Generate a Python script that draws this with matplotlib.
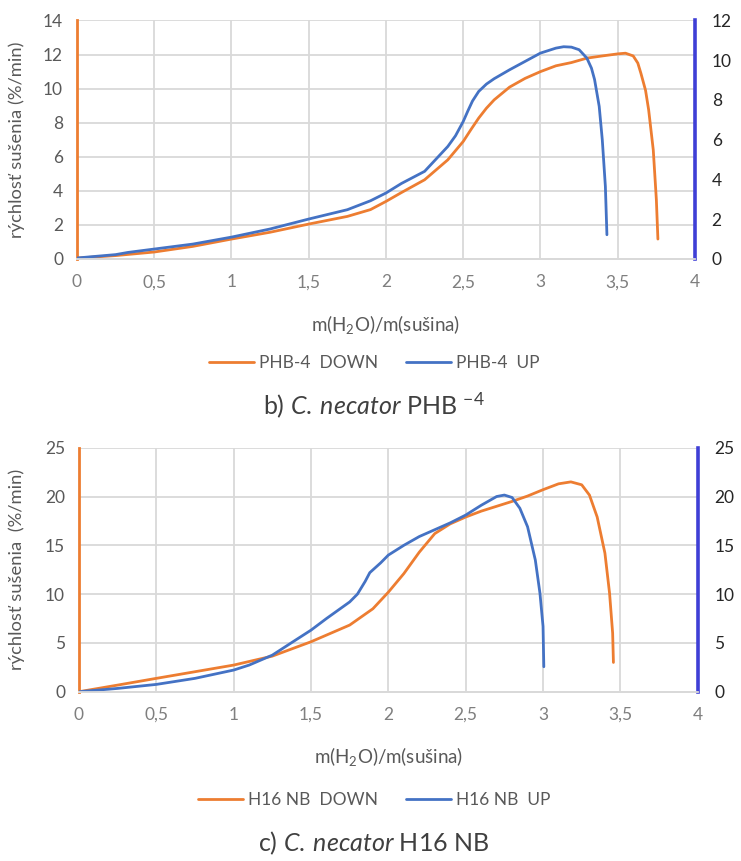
import matplotlib.pyplot as plt

plt.rcParams['font.family'] = ['Lato', 'DejaVu Sans']
plt.rcParams['mathtext.fontset'] = 'custom'
plt.rcParams['mathtext.rm'] = 'Lato'
plt.rcParams['mathtext.it'] = 'Lato:italic'

# PHB-4: DOWN on the left axis (0-14), UP on the right axis (0-12)
phb_down_x = [0, 0.25, 0.5, 0.75, 1.0, 1.25, 1.5, 1.75, 1.9, 2.0, 2.1, 2.25, 2.4, 2.5,
              2.55, 2.6, 2.65, 2.7, 2.8, 2.9, 3.0, 3.1, 3.2, 3.3, 3.4, 3.5, 3.55, 3.6,
              3.63, 3.65, 3.68, 3.7, 3.73, 3.75, 3.76]
phb_down_y = [0.05, 0.2, 0.41, 0.74, 1.17, 1.57, 2.05, 2.5, 2.9, 3.38, 3.9, 4.65, 5.82, 6.9,
              7.6, 8.27, 8.85, 9.34, 10.09, 10.6, 11.0, 11.34, 11.53, 11.79, 11.92, 12.04,
              12.08, 11.92, 11.5, 10.9, 9.9, 8.76, 6.4, 3.48, 1.17]
phb_up_x = [0, 0.25, 0.33, 0.5, 0.75, 1.0, 1.25, 1.5, 1.75, 1.9, 2.0, 2.1, 2.25, 2.4, 2.45,
            2.5, 2.53, 2.56, 2.6, 2.65, 2.7, 2.8, 2.9, 3.0, 3.1, 3.15, 3.2, 3.25, 3.3,
            3.33, 3.35, 3.38, 3.4, 3.42, 3.43]
phb_up_y = [0.05, 0.22, 0.33, 0.5, 0.75, 1.1, 1.51, 2.01, 2.48, 2.93, 3.32, 3.8, 4.41, 5.66,
            6.2, 6.92, 7.45, 7.95, 8.43, 8.8, 9.07, 9.52, 9.94, 10.36, 10.61, 10.68, 10.66,
            10.53, 10.11, 9.6, 9.03, 7.68, 6.0, 3.65, 1.22]

# H16 NB: DOWN on the left axis, UP on the right axis (both 0-25)
h16_down_x = [0, 0.25, 0.5, 0.75, 1.0, 1.25, 1.5, 1.75, 1.9, 2.0, 2.1, 2.2, 2.3, 2.4, 2.5,
              2.6, 2.7, 2.8, 2.9, 3.0, 3.1, 3.18, 3.25, 3.3, 3.35, 3.4, 3.43, 3.45, 3.455]
h16_down_y = [0, 0.68, 1.37, 2.05, 2.73, 3.65, 5.12, 6.83, 8.5, 10.2, 12.1, 14.3, 16.2, 17.2,
              17.9, 18.5, 19.0, 19.5, 20.05, 20.7, 21.3, 21.5, 21.2, 20.15, 17.9, 14.2, 10.1,
              6.0, 3.0]
h16_up_x = [0, 0.25, 0.5, 0.75, 1.0, 1.1, 1.25, 1.4, 1.5, 1.6, 1.75, 1.8, 1.85, 1.88, 1.95,
            2.0, 2.1, 2.2, 2.3, 2.4, 2.5, 2.6, 2.7, 2.75, 2.8, 2.85, 2.9, 2.95, 2.98, 3.0, 3.005]
h16_up_y = [0, 0.34, 0.75, 1.37, 2.22, 2.73, 3.75, 5.29, 6.31, 7.5, 9.2, 10.0, 11.3, 12.2,
            13.2, 14.0, 15.0, 15.9, 16.6, 17.3, 18.1, 19.1, 20.0, 20.15, 19.9, 18.8, 16.9,
            13.5, 10.1, 6.7, 2.56]

x_ticks = [0, 0.5, 1, 1.5, 2, 2.5, 3, 3.5, 4]
x_tick_labels = ['0', '0,5', '1', '1,5', '2', '2,5', '3', '3,5', '4']

ORANGE = '#ED7D31'
BLUE = '#4472C4'
AXIS_BLUE = '#3F3FD6'
GRID = '#D9D9D9'


def panel(fig, rect, xd, yd, xu, yu, ymax_l, ystep_l, ymax_r, ystep_r,
          names, ylabel, caption, xlab_y, ylab_x, leg_y, cap_y):
    ax = fig.add_axes(rect)
    ax2 = ax.twinx()

    l1, = ax.plot(xd, yd, color=ORANGE, lw=2.0, solid_capstyle='round')
    l2, = ax2.plot(xu, yu, color=BLUE, lw=2.0, solid_capstyle='round')

    ax.set_xlim(0, 4)
    ax.set_ylim(0, ymax_l)
    ax2.set_ylim(0, ymax_r)
    ax.set_yticks(range(0, ymax_l + 1, ystep_l))
    ax2.set_yticks(range(0, ymax_r + 1, ystep_r))
    ax.set_xticks(x_ticks)
    ax.set_xticklabels(x_tick_labels)

    ax.grid(True, color=GRID, lw=1.3)
    ax.set_axisbelow(True)
    for a in (ax, ax2):
        a.spines['top'].set_visible(False)
        a.spines['bottom'].set_color(GRID)
        a.spines['bottom'].set_linewidth(1.3)
        a.spines['left'].set_visible(False)
        a.spines['right'].set_visible(False)
    ax.spines['left'].set_visible(True)
    ax.spines['left'].set_color(ORANGE)
    ax.spines['left'].set_linewidth(2.0)
    ax2.spines['right'].set_visible(True)
    ax2.spines['right'].set_color(AXIS_BLUE)
    ax2.spines['right'].set_linewidth(2.6)

    ax.tick_params(axis='x', length=0, pad=11, labelsize=12.5, labelcolor='#7F7F7F')
    ax.tick_params(axis='y', length=0, pad=10, labelsize=12.5, labelcolor='#595959')
    ax2.tick_params(axis='y', length=0, pad=12, labelsize=12.5, labelcolor='#262626')

    ax.set_xlabel('m(H$_2$O)/m(sušina)', fontsize=13.5, color='#595959')
    ax.xaxis.set_label_coords(0.5, xlab_y)
    ax.set_ylabel(ylabel, fontsize=13.2, color='#595959')
    ax.yaxis.set_label_coords(ylab_x, 0.5)

    fig.legend([l1, l2], names, loc='center', bbox_to_anchor=(0.505, leg_y),
               ncol=2, frameon=False, fontsize=12.5, labelcolor='#595959',
               handlelength=2.6, handletextpad=0.3, columnspacing=1.6)
    fig.text(0.505, cap_y, caption, ha='center', va='center', fontsize=18, color='#404040')
    return ax


fig = plt.figure(figsize=(7.41, 8.61), dpi=100)

panel(fig, [0.1039, 0.6992, 0.834, 0.277], phb_down_x, phb_down_y, phb_up_x, phb_up_y,
      14, 2, 12, 2, ['PHB-4  DOWN', 'PHB-4  UP'], 'rýchlosť sušenia (%/min)',
      r'b) $\mathit{C.\:necator}$ PHB $^{\mathit{-4}}$',
      -0.226, -0.084, 1 - 363 / 861, 1 - 405 / 861)

panel(fig, [0.1066, 0.1966, 0.835, 0.2834], h16_down_x, h16_down_y, h16_up_x, h16_up_y,
      25, 5, 25, 5, ['H16 NB  DOWN', 'H16 NB  UP'], 'rýchlosť sušenia  (%/min)',
      r'c) $\mathit{C.\:necator}$ H16 NB',
      -0.218, -0.087, 1 - 800 / 861, 1 - 843 / 861)

fig.savefig('out.png', dpi=100)
